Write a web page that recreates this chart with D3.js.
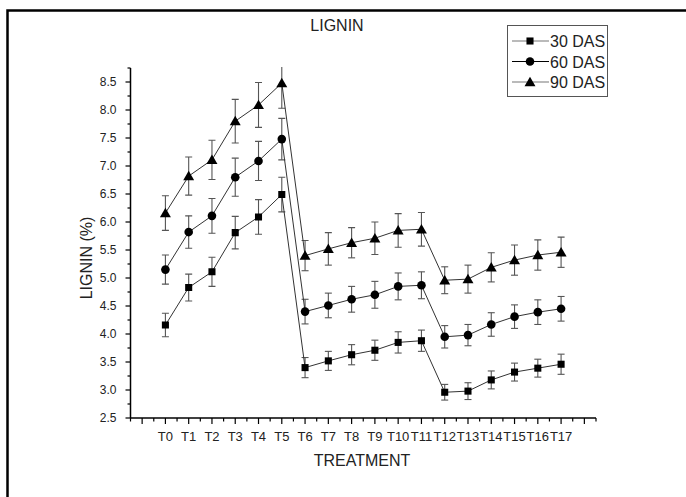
<!DOCTYPE html>
<html>
<head>
<meta charset="utf-8">
<script src="https://cdn.jsdelivr.net/npm/d3@7"></script>
<style>
  body { margin: 0; background: #fff; }
  svg { display: block; font-family: "Liberation Sans", Arial, sans-serif; }
</style>
</head>
<body>
<script>
// Lignin content (%) by treatment, three sampling dates
const treatments = ['T0','T1','T2','T3','T4','T5','T6','T7','T8','T9','T10','T11','T12','T13','T14','T15','T16','T17'];
const das30 = [4.16, 4.83, 5.11, 5.81, 6.09, 6.49, 3.40, 3.52, 3.63, 3.71, 3.85, 3.88, 2.96, 2.98, 3.18, 3.32, 3.39, 3.46];
const das60 = [5.15, 5.82, 6.11, 6.80, 7.09, 7.48, 4.40, 4.51, 4.62, 4.70, 4.85, 4.87, 3.95, 3.98, 4.17, 4.31, 4.39, 4.45];
const das90 = [6.16, 6.82, 7.11, 7.80, 8.09, 8.48, 5.40, 5.52, 5.63, 5.71, 5.85, 5.87, 4.96, 4.98, 5.19, 5.32, 5.41, 5.46];
const err30 = [0.21, 0.24, 0.26, 0.29, 0.31, 0.31, 0.18, 0.17, 0.18, 0.18, 0.19, 0.19, 0.14, 0.15, 0.16, 0.16, 0.16, 0.18];
const err60 = [0.26, 0.29, 0.31, 0.34, 0.35, 0.37, 0.22, 0.22, 0.23, 0.24, 0.24, 0.24, 0.20, 0.19, 0.21, 0.21, 0.22, 0.22];
const err90 = [0.31, 0.34, 0.35, 0.39, 0.40, 0.45, 0.27, 0.29, 0.27, 0.29, 0.30, 0.30, 0.24, 0.25, 0.26, 0.27, 0.27, 0.27];
const seriesNames = ['30 DAS', '60 DAS', '90 DAS'];

const width = 686, height = 497;
const svg = d3.select('body').append('svg')
    .attr('width', width)
    .attr('height', height);

// outer frame (only left and top edges are inside the picture)
svg.append('path')
    .attr('d', 'M7.5,497 V10.5 H690')
    .attr('fill', 'none')
    .attr('stroke', '#000')
    .attr('stroke-width', 2.5);

const x = d3.scaleLinear().domain([-1.5, 18.5]).range([130.5, 596]);
const y = d3.scaleLinear().domain([2.5, 8.75]).range([418, 68]);

// ---- axes ----
const xTicks = d3.range(-1.5, 18.51, 0.5);
const yTicks = d3.range(2.5, 8.76, 0.25);

const xAxis = svg.append('g').attr('transform', `translate(0,${y(2.5)})`);
xAxis.append('line')
    .attr('x1', x(-1.5)).attr('x2', x(18.5))
    .attr('stroke', '#000').attr('stroke-width', 1.5);
xAxis.selectAll('line.tick').data(xTicks).join('line')
    .attr('class', 'tick')
    .attr('x1', d => x(d)).attr('x2', d => x(d))
    .attr('y1', 0).attr('y2', d => Number.isInteger(d) ? 6 : 3.5)
    .attr('stroke', '#000').attr('stroke-width', 1.2);
xAxis.selectAll('text').data(treatments).join('text')
    .attr('x', (d, i) => x(i))
    .attr('y', 23)
    .attr('text-anchor', 'middle')
    .attr('font-size', 13)
    .attr('fill', '#222')
    .text(d => d);

const yAxis = svg.append('g').attr('transform', `translate(${x(-1.5)},0)`);
yAxis.append('line')
    .attr('y1', y(2.5)).attr('y2', y(8.75))
    .attr('stroke', '#000').attr('stroke-width', 1.5);
yAxis.selectAll('line.tick').data(yTicks).join('line')
    .attr('class', 'tick')
    .attr('y1', d => y(d)).attr('y2', d => y(d))
    .attr('x1', 0).attr('x2', d => Math.abs(d * 2 - Math.round(d * 2)) < 1e-6 ? -5 : -3)
    .attr('stroke', '#000').attr('stroke-width', 1.2);
yAxis.selectAll('text').data(d3.range(2.5, 8.51, 0.5)).join('text')
    .attr('x', -14)
    .attr('y', d => y(d) + 4.3)
    .attr('text-anchor', 'end')
    .attr('font-size', 12)
    .attr('fill', '#222')
    .text(d => d3.format('.1f')(d));

// titles
svg.append('text')
    .attr('x', 337).attr('y', 31)
    .attr('text-anchor', 'middle')
    .attr('font-size', 16).attr('fill', '#222')
    .text('LIGNIN');
svg.append('text')
    .attr('x', 362).attr('y', 466)
    .attr('text-anchor', 'middle')
    .attr('font-size', 16).attr('fill', '#222')
    .text('TREATMENT');
svg.append('text')
    .attr('transform', 'translate(91.5,258) rotate(-90)')
    .attr('text-anchor', 'middle')
    .attr('font-size', 16).attr('fill', '#222')
    .text('LIGNIN (%)');

// ---- series ----
svg.append('clipPath').attr('id', 'plotClip')
  .append('rect')
    .attr('x', x(-1.5)).attr('y', y(8.75) - 1)
    .attr('width', x(18.5) - x(-1.5)).attr('height', y(2.5) - y(8.75) + 1);

const symbols = [d3.symbolSquare, d3.symbolCircle, d3.symbolTriangle];
const symbolSizes = [50, 58, 52];
const allSeries = [
  {name: seriesNames[0], values: das30, errs: err30},
  {name: seriesNames[1], values: das60, errs: err60},
  {name: seriesNames[2], values: das90, errs: err90}
];

const plot = svg.append('g').attr('clip-path', 'url(#plotClip)');
const line = d3.line().x((d, i) => x(i)).y(d => y(d));

allSeries.forEach((s, k) => {
  const g = plot.append('g');
  // error bars
  const eb = g.selectAll('g.eb').data(s.values).join('g').attr('class', 'eb');
  eb.append('line')
      .attr('x1', (d, i) => x(i)).attr('x2', (d, i) => x(i))
      .attr('y1', (d, i) => y(d + s.errs[i])).attr('y2', (d, i) => y(d - s.errs[i]));
  eb.append('line')
      .attr('x1', (d, i) => x(i) - 3.5).attr('x2', (d, i) => x(i) + 3.5)
      .attr('y1', (d, i) => y(d + s.errs[i])).attr('y2', (d, i) => y(d + s.errs[i]));
  eb.append('line')
      .attr('x1', (d, i) => x(i) - 3.5).attr('x2', (d, i) => x(i) + 3.5)
      .attr('y1', (d, i) => y(d - s.errs[i])).attr('y2', (d, i) => y(d - s.errs[i]));
  eb.selectAll('line').attr('stroke', '#555').attr('stroke-width', 1.1);

  g.append('path')
      .datum(s.values)
      .attr('d', line)
      .attr('fill', 'none')
      .attr('stroke', '#333')
      .attr('stroke-width', 1);

  g.selectAll('path.sym').data(s.values).join('path')
      .attr('class', 'sym')
      .attr('transform', (d, i) => `translate(${x(i)},${y(d) + (k === 2 ? 1 : 0)})`)
      .attr('d', d3.symbol().type(symbols[k]).size(symbolSizes[k]))
      .attr('fill', '#000');
});

// ---- legend ----
const legend = svg.append('g');
legend.append('rect')
    .attr('x', 507.5).attr('y', 25.5)
    .attr('width', 100).attr('height', 71)
    .attr('fill', '#fff')
    .attr('stroke', '#555').attr('stroke-width', 1);
const legendLineColors = ['#777', '#000', '#777'];
allSeries.forEach((s, k) => {
  const ly = 41 + k * 20.5;
  legend.append('line')
      .attr('x1', 512).attr('x2', 549)
      .attr('y1', ly).attr('y2', ly)
      .attr('stroke', legendLineColors[k]).attr('stroke-width', 1.2);
  legend.append('path')
      .attr('transform', `translate(530,${ly + (k === 2 ? 1 : 0)})`)
      .attr('d', d3.symbol().type(symbols[k]).size(symbolSizes[k]))
      .attr('fill', '#000');
  legend.append('text')
      .attr('x', 550).attr('y', ly + 6)
      .attr('font-size', 16).attr('fill', '#222')
      .text(s.name);
});
</script>
</body>
</html>
